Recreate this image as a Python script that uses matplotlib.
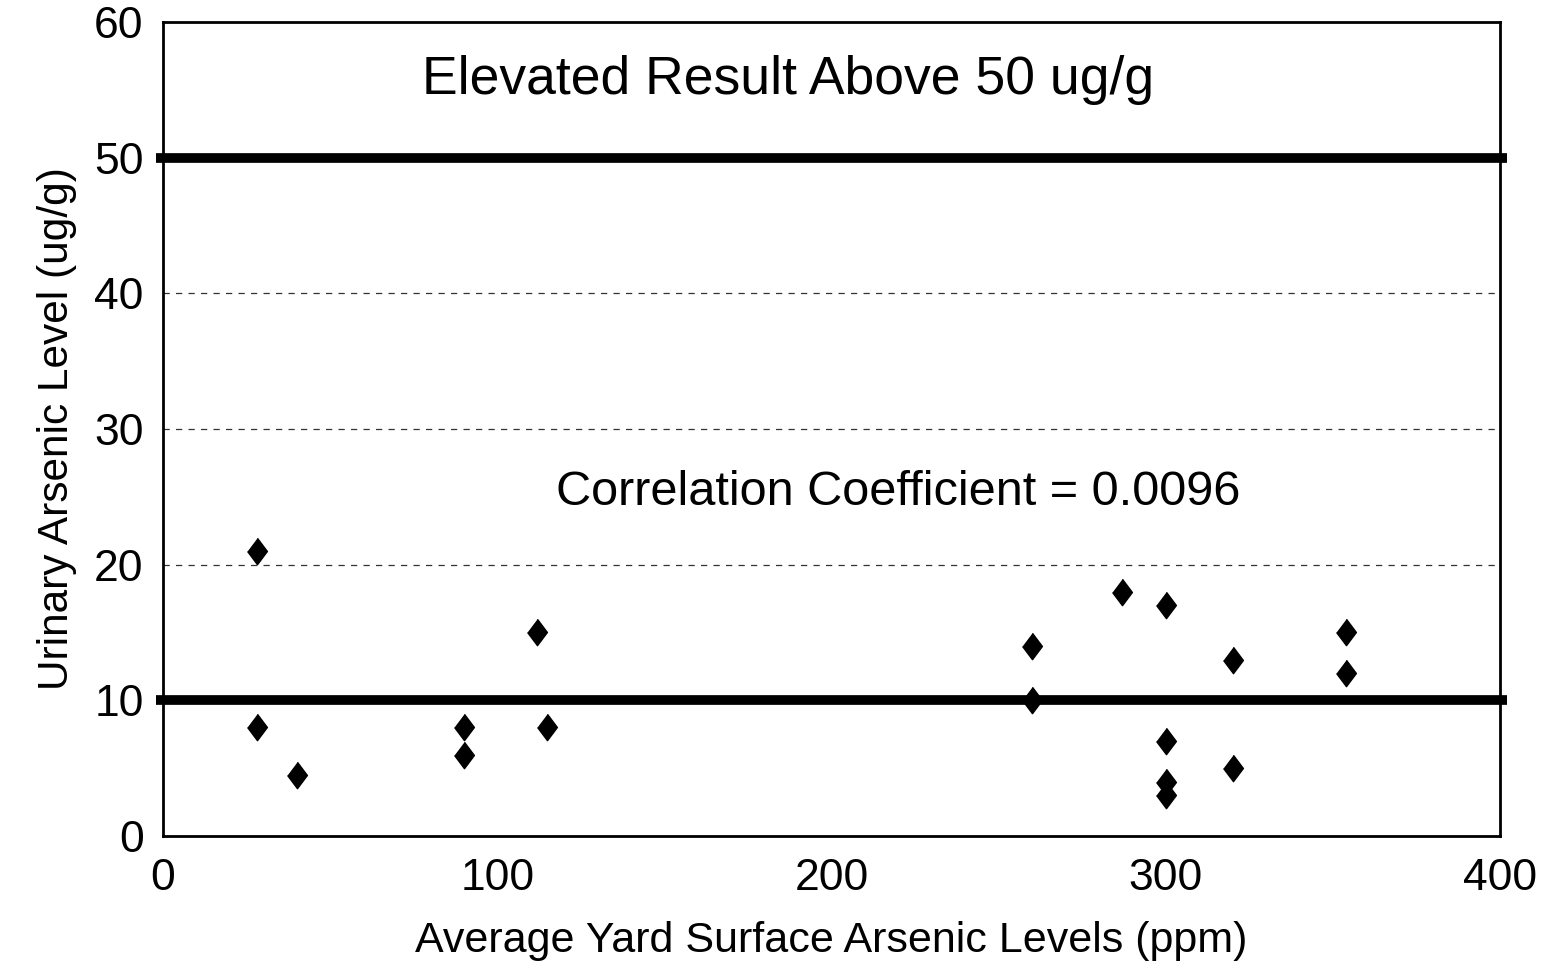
import matplotlib.pyplot as plt

plt.rcParams['font.family'] = ['Liberation Sans', 'DejaVu Sans']

# yard surface arsenic (ppm) vs urinary arsenic (ug/g)
yard_ppm = [28, 28, 40, 90, 90, 112, 115, 260, 260, 287, 300, 300, 300, 300, 320, 320, 354, 354]
urine_ugg = [21, 8, 4.5, 8, 6, 15, 8, 14, 10, 18, 17, 7, 4, 3, 13, 5, 15, 12]

x_ticks = [0, 100, 200, 300, 400]
y_ticks = [0, 10, 20, 30, 40, 50, 60]
grid_levels = [20, 30, 40]
thick_levels = [10, 50]

fig = plt.figure(figsize=(15.47, 9.64), dpi=100)
ax = fig.add_axes([0.1054, 0.1328, 0.8642, 0.8444])

diamond = [(0, 1), (0.75, 0), (0, -1), (-0.75, 0)]
ax.plot(yard_ppm, urine_ugg, linestyle='none', marker=diamond, markersize=19,
        color='black', zorder=3)

for g in grid_levels:
    ax.axhline(g, color='#333333', linewidth=0.9, linestyle=(0, (5, 5)), zorder=1)
for t in thick_levels:
    ax.plot([-2, 402], [t, t], color='black', linewidth=7, solid_capstyle='butt',
            clip_on=False, zorder=4)

ax.text(187, 55.7, 'Elevated Result Above 50 ug/g', fontsize=38.5, ha='center', va='center')
ax.text(220, 25.3, 'Correlation Coefficient = 0.0096', fontsize=35, ha='center', va='center')

ax.set_xlim(0, 400)
ax.set_ylim(0, 60)
ax.set_xticks(x_ticks)
ax.set_yticks(y_ticks)
ax.tick_params(length=0, labelsize=32)
ax.tick_params(axis='x', pad=16)
ax.tick_params(axis='y', pad=14)
for s in ax.spines.values():
    s.set_linewidth(2)

ax.set_xlabel('Average Yard Surface Arsenic Levels (ppm)', fontsize=31, labelpad=16)
ax.set_ylabel('Urinary Arsenic Level (ug/g)', fontsize=30.5, labelpad=12)

fig.savefig('out.png', dpi=100)
